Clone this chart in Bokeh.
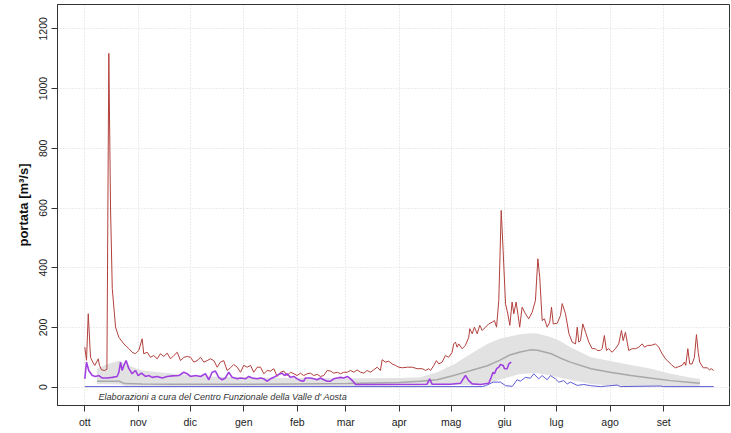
from bokeh.plotting import figure
from bokeh.models import FixedTicker, Label
from bokeh.embed import file_html
from bokeh.resources import INLINE

# ---- data (day index from 1 October) ----
month_days = [0, 31, 61, 92, 123, 151, 182, 212, 243, 273, 304, 335]
month_labels = ["ott", "nov", "dic", "gen", "feb", "mar", "apr", "mag", "giu", "lug", "ago", "set"]
y_ticks = [0, 200, 400, 600, 800, 1000, 1200]

red_days = [0, 1, 2, 3.3, 4.6, 5.8, 7.8, 8.5, 9.7, 11.6, 12.8, 13.9, 14.9, 15.9, 17.8, 19.7, 22.6, 25.5,
            27.4, 29.3, 31.2, 33.2, 34.1, 36.1, 38, 39.9, 41.9, 43.8, 45.7, 47.7, 49.6, 51.5, 53.5, 55.4,
            57.3, 59.3, 61.2, 63.1, 65, 67, 68.9, 70.8, 72.7, 74.7, 76.6, 78.5, 80.4, 82.4, 84.3, 86.2,
            88.2, 90.1, 92, 94, 95.9, 97.8, 99.8, 101.7, 103.6, 105.6, 107.5, 109.4, 111.3, 113.3, 115.2,
            117.1, 119, 121, 122.9, 124.8, 126.7, 128.7, 130.6, 132.5, 134.5, 136.4, 138.3, 140.3, 142.2,
            144.1, 146.1, 148, 149.9, 151.9, 153.8, 155.7, 157.6, 159.6, 161.5, 163.4, 165.3, 167.2, 169.2,
            171.1, 172.1, 174, 175.9, 177.9, 179.8, 181.7, 183.7, 186.6, 189.5, 192.4, 195.3, 197.2, 199.1,
            200.1, 202, 203.5, 204.9, 206.8, 208.7, 210.6, 212.6, 213.5, 214.5, 215.5, 216.4, 218.4, 220.3,
            222.2, 222.8, 224.2, 225.5, 227.1, 228.6, 230, 231.9, 233.8, 235.8, 237.1, 238.3, 239.6, 241,
            242.1, 243.5, 244.8, 246, 247.3, 248.3, 249.6, 250.8, 251.7, 253.1, 255, 256.9, 258.9, 260.8,
            262.2, 263.3, 264.7, 266, 267.6, 269.1, 270.1, 271.1, 273.4, 275.3, 276.3, 278.2, 280.2, 282.1,
            284, 285, 285.9, 286.9, 288.2, 289.8, 291.7, 293.6, 295.5, 296.5, 298.4, 299.4, 300.7, 301.9,
            303.2, 305.2, 307.1, 309, 310.6, 311.6, 312.9, 313.9, 314.8, 316.8, 318.7, 320.6, 322.6, 323.9,
            325.8, 327.8, 330.3, 332.2, 334.1, 336.1, 338, 339.9, 341.8, 343.8, 345.7, 347, 347.8, 349,
            350.1, 351.5, 352.8, 354, 355, 355.9, 357.9, 360.2, 361.5, 362.5, 364]
red_vals = [134, 90, 246, 100, 84, 73, 95, 73, 58, 56, 60, 1118, 600, 330, 201, 167, 145, 129,
            117, 112, 123, 162, 112, 117, 100, 106, 95, 112, 103, 114, 95, 106, 117, 89,
            100, 103, 100, 84, 89, 100, 84, 89, 95, 89, 67, 84, 89, 56, 65, 76,
            67, 50, 73, 67, 73, 50, 67, 67, 45, 56, 54, 62, 36, 50, 54,
            39, 50, 45, 39, 47, 39, 45, 47, 39, 43, 36, 39, 56, 54,
            47, 50, 45, 50, 50, 56, 50, 58, 50, 47, 56, 50, 58, 67,
            56, 92, 84, 87, 78, 73, 67, 65, 67, 67, 62, 62, 56, 62,
            56, 73, 89, 78, 84, 106, 100, 117, 145, 151, 134, 145, 129, 140,
            167, 196, 179, 201, 179, 207, 190, 201, 212, 218, 223, 201, 290, 592,
            458, 279, 246, 207, 285, 246, 285, 240, 201, 268, 246, 229, 251, 290,
            430, 368, 223, 229, 201, 218, 268, 212, 214, 240, 280, 246, 179, 151,
            145, 201, 151, 156, 212, 184, 151, 129, 129, 123, 123, 129, 173, 123,
            129, 117, 129, 145, 190, 156, 184, 151, 123, 129, 129, 134, 145, 134,
            140, 140, 145, 134, 112, 95, 84, 73, 65, 69, 73, 84, 73, 129,
            78, 78, 100, 176, 117, 84, 65, 65, 58, 62, 56]

purple_days = [0, 1, 2.3, 4.3, 6.2, 8.1, 10, 13, 15.9, 18.7, 19.7, 20.7, 21.6, 22.6, 23.9, 25.5, 27.4,
               29.3, 30.9, 32.8, 35.1, 37, 39, 41.9, 44.8, 47.7, 50.6, 54.4, 57.3, 59.3, 61.2, 64.1, 67,
               69.8, 71.8, 73.7, 75.6, 77.5, 79.5, 81.4, 83.3, 85.3, 88.2, 90.1, 93, 94.9, 96.9, 99.8,
               101.7, 103.6, 105.6, 107.5, 109.4, 112.3, 114.2, 115.6, 117.1, 119, 121, 122.9, 124.8,
               126.7, 127.7, 130.6, 132.5, 134.5, 136.4, 138.3, 140.3, 142.2, 144.1, 146.1, 148, 149.9,
               151.9, 153.8, 155.7, 156.7, 198.1, 199.6, 201, 211.6, 217.4, 219, 220.3, 222.2, 224.2,
               229, 233.8, 235.2, 236.3, 237.1, 238.3, 239.6, 240.6, 242.1, 242.9, 244.4, 245.4, 246.8]
purple_vals = [28, 84, 56, 39, 36, 39, 31, 31, 33, 36, 50, 84, 56, 73, 89, 62, 45,
               56, 39, 47, 36, 39, 33, 36, 31, 36, 38, 39, 50, 45, 36, 39, 36,
               45, 25, 50, 54, 33, 25, 31, 50, 33, 28, 31, 28, 36, 31, 28,
               31, 28, 20, 28, 33, 43, 47, 39, 45, 33, 36, 28, 22,
               20, 31, 31, 28, 25, 31, 25, 20, 20, 28, 31, 33, 31,
               36, 28, 17, 9, 10, 28, 10, 10, 13, 28, 39, 22, 11,
               9, 13, 33, 50, 45, 62, 67, 76, 73, 62, 62, 78, 84]

blue_days = [0, 230, 232, 236.4, 240.6, 243.5, 247.5, 250.2, 252.1, 255, 257.9, 259.8, 262.7, 264.7,
             267.6, 269.5, 272.4, 274.3, 277.2, 279.2, 281.1, 285, 288.8, 292.7, 298.4, 308.1, 310,
             333.1, 335, 364]
blue_vals = [2, 2, 5, 17, 17, 5, 3, 25, 20, 33, 30, 45, 28, 39,
             25, 39, 28, 17, 22, 11, 17, 6, 9, 5, 2, 7, 2,
             4, 2, 2]

band_days = [7, 12, 20, 23, 33, 52, 72, 92, 122, 152, 182, 194, 204, 214, 223, 233, 240, 246, 252,
             258, 262, 270, 275, 281, 293, 304, 316, 327, 339, 351, 356]
band_lower = [10, 10, 9, 5, 5, 4, 4, 4, 4, 4, 5, 5, 6, 7, 7, 12, 25, 35, 44,
              47, 47, 39, 32, 25, 11, 6, 3, 2, 1, 1, 1]
band_median = [20, 20, 20, 12, 11, 10, 10, 10, 11, 12, 16, 20, 25, 40, 55, 72, 90, 108, 118,
               125, 124, 112, 98, 84, 62, 50, 39, 31, 22, 16, 13]
band_upper = [62, 75, 89, 78, 56, 45, 36, 33, 31, 30, 31, 33, 50, 78, 110, 145, 162, 170, 177,
              181, 180, 167, 155, 134, 100, 88, 74, 63, 45, 32, 28]

credit = "Elaborazioni a cura del Centro Funzionale della Valle d' Aosta"
y_label = "portata [m³/s]"

# ---- figure ----
p = figure(width=730, height=432, output_backend="svg", toolbar_location=None,
           x_range=(-15.8, 373.7), y_range=(-61.3, 1281.6))
p.min_border_left = 57
p.min_border_right = 0
p.min_border_top = 4
p.min_border_bottom = 27
p.background_fill_color = "white"
p.border_fill_color = "white"
p.outline_line_color = "#333333"
p.outline_line_width = 1

FONT = "Liberation Sans"

p.varea(x=band_days, y1=band_lower, y2=band_upper, fill_color="#e2e2e2", fill_alpha=1.0)
p.line(band_days, band_median, line_color="#a8a8a8", line_width=1.5)
p.line(red_days, red_vals, line_color="#b2403c", line_width=1)
p.line(blue_days, blue_vals, line_color="#5c5cd6", line_width=1)
p.line(purple_days, purple_vals, line_color="#a040e0", line_width=1.6)

# axes
p.xaxis.ticker = FixedTicker(ticks=month_days)
p.xaxis.major_label_overrides = {d: m for d, m in zip(month_days, month_labels)}
p.yaxis.ticker = FixedTicker(ticks=y_ticks)
for ax in (p.xaxis[0], p.yaxis[0]):
    ax.axis_line_color = "#333333"
    ax.major_tick_line_color = "#333333"
    ax.major_tick_out = 6
    ax.major_tick_in = 0
    ax.minor_tick_line_color = None
    ax.major_label_text_font = FONT
    ax.major_label_text_font_size = "10.5px"
    ax.major_label_text_color = "#222222"
    ax.major_label_standoff = 4
p.yaxis.major_label_orientation = "vertical"
p.yaxis.axis_label = y_label
p.yaxis.axis_label_text_font = FONT
p.yaxis.axis_label_text_font_size = "13px"
p.yaxis.axis_label_text_font_style = "bold"
p.yaxis.axis_label_text_color = "#111111"
p.yaxis.axis_label_standoff = 6

for g in (p.xgrid[0], p.ygrid[0]):
    g.grid_line_color = "#d8d8d8"
    g.grid_line_dash = "1 2"
    g.grid_line_width = 1

p.add_layout(Label(x=7.9, y=-34.5, text=credit, text_font=FONT, text_font_size="9.1px",
                   text_font_style="italic", text_baseline="middle", text_color="#333333"))

open("out.html", "w").write(file_html(p, INLINE))
